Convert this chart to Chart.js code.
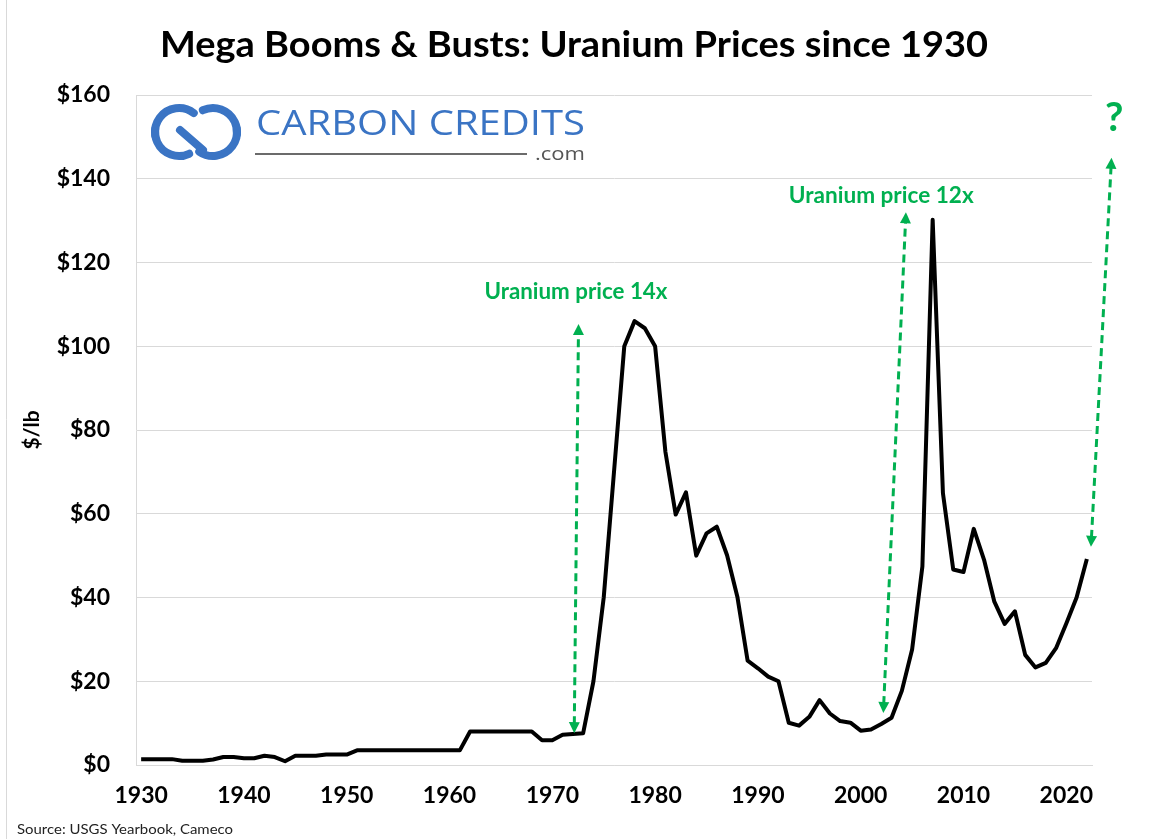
<!DOCTYPE html>
<html>
<head>
<meta charset="utf-8">
<script src="https://cdn.jsdelivr.net/npm/chart.js@4.4.0/dist/chart.umd.min.js"></script>
<style>
  html, body { margin: 0; padding: 0; background: #fff; }
  #wrap { width: 1151px; height: 839px; position: relative; }
</style>
</head>
<body>
<div id="wrap"><canvas id="chart" width="1151" height="839"></canvas></div>
<script>
const years = [
  1930, 1931, 1932, 1933, 1934, 1935, 1936, 1937, 1938, 1939,
  1940, 1941, 1942, 1943, 1944, 1945, 1946, 1947, 1948, 1949,
  1950, 1951, 1952, 1953, 1954, 1955, 1956, 1957, 1958, 1959,
  1960, 1961, 1962, 1963, 1964, 1965, 1966, 1967, 1968, 1969,
  1970, 1971, 1972, 1973, 1974, 1975, 1976, 1977, 1978, 1979,
  1980, 1981, 1982, 1983, 1984, 1985, 1986, 1987, 1988, 1989,
  1990, 1991, 1992, 1993, 1994, 1995, 1996, 1997, 1998, 1999,
  2000, 2001, 2002, 2003, 2004, 2005, 2006, 2007, 2008, 2009,
  2010, 2011, 2012, 2013, 2014, 2015, 2016, 2017, 2018, 2019,
  2020, 2021, 2022
];

// $/lb
const prices = [
  1.4, 1.4, 1.4, 1.4, 1.0, 1.0, 1.0, 1.3, 1.9, 1.9,
  1.6, 1.6, 2.2, 1.9, 0.9, 2.2, 2.2, 2.2, 2.5, 2.5,
  2.5, 3.5, 3.5, 3.5, 3.5, 3.5, 3.5, 3.5, 3.5, 3.5,
  3.5, 3.5, 8.0, 8.0, 8.0, 8.0, 8.0, 8.0, 8.0, 5.9,
  5.9, 7.2, 7.4, 7.6, 20.0, 40.0, 70.0, 100.0, 106.0, 104.3,
  100.0, 74.8, 59.8, 65.1, 50.0, 55.3, 56.9, 50.1, 40.2, 24.9,
  23.1, 21.1, 20.0, 10.1, 9.4, 11.5, 15.5, 12.3, 10.5, 10.1,
  8.2, 8.5, 9.8, 11.3, 17.7, 27.6, 47.4, 130.2, 64.9, 46.7,
  46.1, 56.4, 49.0, 39.0, 33.7, 36.7, 26.3, 23.3, 24.4, 27.9,
  33.8, 40.0, 49.2
];

const xTickLabels = ["1930", "1940", "1950", "1960", "1970", "1980", "1990", "2000", "2010", "2020"];
const yMin = 0, yMax = 160, yStep = 20;

const titleText = "Mega Booms & Busts: Uranium Prices since 1930";
const yAxisTitle = "$/lb";
const sourceText = "Source: USGS Yearbook, Cameco";

// annotations in data units (year, $/lb)
const noteTexts = ["Uranium price 14x", "Uranium price 12x", "?"];
const noteYears = [1972.3, 2002.0, 2024.65];
const noteValues = [111.3, 134.2, 151.4];

const arrowFrom = [[1972.13, 7.6], [2002.2, 12.4], [2022.4, 52.1]];
const arrowTo = [[1972.55, 105.3], [2004.4, 132.0], [2024.4, 145.0]];

const green = "#00b050";
const font = "Lato";

const drawFitted = (c, text, x, y, f, width, align) => {
  c.save();
  c.font = f;
  const w = c.measureText(text).width;
  c.translate(x, y);
  c.scale(width / w, 1);
  c.textAlign = align;
  c.fillText(text, 0, 0);
  c.restore();
};

const drawHead = (c, x, y, ang) => {
  const len = 11, half = 5.5;
  c.beginPath();
  c.moveTo(x, y);
  c.lineTo(x - len * Math.cos(ang) + half * Math.sin(ang), y - len * Math.sin(ang) - half * Math.cos(ang));
  c.lineTo(x - len * Math.cos(ang) - half * Math.sin(ang), y - len * Math.sin(ang) + half * Math.cos(ang));
  c.closePath();
  c.fill();
};

const drawArrow = (c, x1, y1, x2, y2) => {
  const ang = Math.atan2(y2 - y1, x2 - x1);
  const cs = Math.cos(ang), sn = Math.sin(ang);
  c.save();
  c.strokeStyle = green;
  c.fillStyle = green;
  c.lineWidth = 3;
  c.setLineDash([8, 5]);
  c.beginPath();
  c.moveTo(x1 + 9 * cs, y1 + 9 * sn);
  c.lineTo(x2 - 9 * cs, y2 - 9 * sn);
  c.stroke();
  c.setLineDash([]);
  drawHead(c, x2, y2, ang);
  drawHead(c, x1, y1, ang + Math.PI);
  c.restore();
};

const drawLogo = (c) => {
  const blue = "#3a74c4";
  c.save();
  c.strokeStyle = blue;
  c.lineWidth = 8;
  c.lineCap = "round";
  const d = Math.PI / 180;
  const lx = 179, rx = 213, cy = 132, r = 24;
  // two humps on top, two below, one bar across the middle
  c.beginPath(); c.arc(lx, cy, r, 172 * d, 308 * d); c.stroke();
  c.beginPath(); c.arc(rx, cy, r, 245 * d, 365 * d); c.stroke();
  c.beginPath(); c.arc(lx, cy, r, 65 * d, 188 * d); c.stroke();
  c.beginPath(); c.arc(rx, cy, r, -8 * d, 125 * d); c.stroke();
  c.beginPath(); c.moveTo(180, 130); c.lineTo(203, 150); c.stroke();
  c.fillStyle = blue;
  drawFitted(c, "CARBON CREDITS", 256, 135, "400 34px 'Open Sans'", 329, "left");
  c.strokeStyle = "#6b6b6b";
  c.lineWidth = 2;
  c.lineCap = "butt";
  c.beginPath(); c.moveTo(255, 154); c.lineTo(527, 154); c.stroke();
  c.fillStyle = "#555";
  drawFitted(c, ".com", 535, 160, "400 18px 'Open Sans'", 50, "left");
  c.restore();
};

const decor = {
  id: "decor",
  afterDraw(chart) {
    const c = chart.ctx;
    const xs = chart.scales.x, ys = chart.scales.y;
    const px = (yr) => xs.getPixelForValue(yr - years[0]);
    const py = (v) => ys.getPixelForValue(v);

    c.save();
    // thin frame line on the left
    c.strokeStyle = "#d9d9d9";
    c.lineWidth = 1;
    c.beginPath(); c.moveTo(6.5, 0); c.lineTo(6.5, 839); c.stroke();

    c.fillStyle = "#000";
    drawFitted(c, titleText, 574, 57, "bold 37px " + font, 828, "center");

    c.fillStyle = "#222";
    drawFitted(c, sourceText, 17, 834, "400 14px " + font, 216, "left");

    drawLogo(c);

    for (let i = 0; i < arrowFrom.length; i++) {
      drawArrow(c, px(arrowFrom[i][0]), py(arrowFrom[i][1]), px(arrowTo[i][0]), py(arrowTo[i][1]));
    }

    c.fillStyle = green;
    drawFitted(c, noteTexts[0], px(noteYears[0]), py(noteValues[0]), "bold 22px " + font, 183, "center");
    drawFitted(c, noteTexts[1], px(noteYears[1]), py(noteValues[1]), "bold 22px " + font, 185, "center");
    c.font = "bold 40px " + font;
    c.textAlign = "center";
    c.fillText(noteTexts[2], px(noteYears[2]), py(noteValues[2]));
    c.restore();
  },
};

const ctx = document.getElementById("chart");
const chart = new Chart(ctx, {
  type: "line",
  data: {
    labels: years.map(String),
    datasets: [
      {
        data: prices,
        borderColor: "#000",
        borderWidth: 4,
        pointRadius: 0,
        tension: 0,
        fill: false,
        borderJoinStyle: "round",
      },
    ],
  },
  options: {
    responsive: false,
    animation: false,
    layout: { padding: { top: 95, right: 59, bottom: 0, left: 0 } },
    plugins: {
      legend: { display: false },
      tooltip: { enabled: false },
      title: { display: false },
    },
    scales: {
      x: {
        offset: true,
        grid: { display: false, drawTicks: false },
        border: { display: true, color: "#d9d9d9", width: 1 },
        ticks: {
          autoSkip: false,
          maxRotation: 0,
          padding: 17,
          color: "#000",
          font: { family: font, size: 23, weight: "bold" },
          callback: function (v, i) {
            const l = String(years[i]);
            return xTickLabels.includes(l) ? l : null;
          },
        },
        afterFit: (s) => { s.height = 74; },
      },
      y: {
        min: yMin,
        max: yMax,
        grid: { color: "#d9d9d9", lineWidth: 1, drawTicks: false },
        border: { display: true, color: "#d9d9d9", width: 1 },
        ticks: {
          stepSize: yStep,
          padding: 26,
          color: "#000",
          font: { family: font, size: 23, weight: "bold" },
          callback: (v) => "$" + v,
        },
        title: {
          display: true,
          text: yAxisTitle,
          color: "#000",
          font: { family: font, size: 21, weight: "bold" },
          padding: { top: 20, bottom: 0 },
        },
        afterFit: (s) => { s.width = 136; },
      },
    },
  },
  plugins: [decor],
});
</script>
</body>
</html>
